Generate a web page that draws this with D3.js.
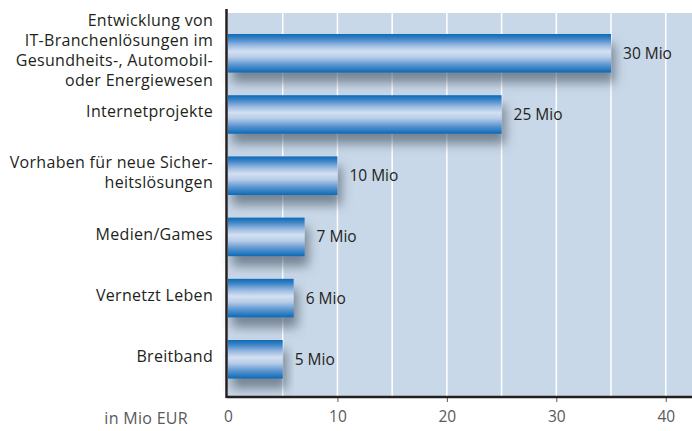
<!DOCTYPE html>
<html>
<head>
<meta charset="utf-8">
<script src="https://cdn.jsdelivr.net/npm/d3@7"></script>
<style>
  body { margin: 0; background: #fff; }
  #chart { width: 692px; height: 431px; }
  text { font-family: "Open Sans", sans-serif; }
</style>
</head>
<body>
<div id="chart"></div>
<script>
//Datos
const categories = [
    ['Entwicklung von', 'IT-Branchenlösungen im', 'Gesundheits-, Automobil-', 'oder Energiewesen'],
    ['Internetprojekte'],
    ['Vorhaben für neue Sicher-', 'heitslösungen'],
    ['Medien/Games'],
    ['Vernetzt Leben'],
    ['Breitband']
];
const barValues = [35, 25, 10, 7, 6, 5];
const valueLabels = ['30 Mio', '25 Mio', '10 Mio', '7 Mio', '6 Mio', '5 Mio'];
const tickValues = [0, 10, 20, 30, 40];
const gridValues = [5, 10, 15, 20, 25, 30, 35, 40];
const unitLabel = 'in Mio EUR';

const W = 692, H = 431;
let margin = {top: 13, right: 0, bottom: 34, left: 228};
let width = W - margin.left - margin.right,
    height = H - margin.top - margin.bottom;

let svg = d3.select('#chart').append('svg')
    .attr('width', W)
    .attr('height', H);

let defs = svg.append('defs');

//Degradado de las barras
let grad = defs.append('linearGradient')
    .attr('id', 'barGrad')
    .attr('x1', 0).attr('y1', 0).attr('x2', 0).attr('y2', 1);
[[0, '#0b6ab6'], [0.12, '#3d84c6'], [0.3, '#9cbbe2'], [0.45, '#d3e0f1'],
 [0.6, '#b8cde9'], [0.8, '#5b95d0'], [1, '#0b6ab6']].forEach(function(s) {
    grad.append('stop').attr('offset', s[0]).attr('stop-color', s[1]);
});

let shadow = defs.append('filter')
    .attr('id', 'shadow')
    .attr('x', '-10%').attr('y', '-30%').attr('width', '130%').attr('height', '200%');
shadow.append('feDropShadow')
    .attr('dx', 4).attr('dy', 10)
    .attr('stdDeviation', 5.5)
    .attr('flood-color', '#3e4c5a')
    .attr('flood-opacity', 0.6);

let g = svg.append('g')
    .attr('transform', 'translate(' + margin.left + ',' + margin.top + ')');

let x = d3.scaleLinear()
    .domain([0, 42.4])
    .range([0, width]);

let y = d3.scaleBand()
    .domain(d3.range(categories.length))
    .range([9.7, 376.9])
    .paddingInner(0.37)
    .paddingOuter(0.185);

//Fondo
g.append('rect')
    .attr('x', 0).attr('y', 0)
    .attr('width', width).attr('height', height)
    .attr('fill', '#c9d8e8');

//Rejilla
g.selectAll('.grid')
    .data(gridValues)
    .enter().append('line')
    .attr('class', 'grid')
    .attr('x1', d => x(d)).attr('x2', d => x(d))
    .attr('y1', 0).attr('y2', height)
    .attr('stroke', '#fff')
    .attr('stroke-width', 1.5);

//Barras
g.selectAll('.bar')
    .data(barValues)
    .enter().append('rect')
    .attr('class', 'bar')
    .attr('x', 0)
    .attr('y', (d, i) => y(i))
    .attr('width', d => x(d))
    .attr('height', y.bandwidth())
    .attr('fill', 'url(#barGrad)')
    .attr('filter', 'url(#shadow)');

//Etiquetas de valor
g.selectAll('.val')
    .data(barValues)
    .enter().append('text')
    .attr('class', 'val')
    .attr('x', d => x(d) + 12)
    .attr('y', (d, i) => y(i) + y.bandwidth() / 2)
    .attr('dy', '0.35em')
    .attr('font-size', 15.5)
    .attr('fill', '#231f20')
    .text((d, i) => valueLabels[i]);

//Eje X
let xAxis = d3.axisBottom(x)
    .tickValues(tickValues)
    .tickSize(5)
    .tickPadding(9);

let ax = g.append('g')
    .attr('transform', 'translate(0,' + height + ')')
    .call(xAxis);
ax.select('.domain').remove();
ax.selectAll('.tick line').attr('stroke', '#58595b').attr('stroke-width', 1);
ax.selectAll('.tick').filter(d => d === 0).select('line').remove();
ax.selectAll('.tick text')
    .attr('font-size', 15.5)
    .attr('fill', '#58595b')
    .style('font-family', '"Open Sans", sans-serif');

//Líneas de eje
g.append('line')
    .attr('x1', -1.5).attr('x2', width)
    .attr('y1', height).attr('y2', height)
    .attr('stroke', '#231f20').attr('stroke-width', 2.5);
g.append('line')
    .attr('x1', -1.5).attr('x2', -1.5)
    .attr('y1', -4).attr('y2', height + 1)
    .attr('stroke', '#231f20').attr('stroke-width', 2.5);

//Etiquetas de categoría
let lineH = 20;
let cats = g.selectAll('.cat')
    .data(categories)
    .enter().append('text')
    .attr('class', 'cat')
    .attr('text-anchor', 'end')
    .attr('font-size', 16)
    .attr('letter-spacing', 0.3)
    .attr('fill', '#231f20');
cats.each(function(lines, i) {
    let cy = y(i) + y.bandwidth() / 2 - (lines.length - 1) * lineH / 2 - 3;
    d3.select(this).selectAll('tspan')
        .data(lines)
        .enter().append('tspan')
        .attr('x', -15)
        .attr('y', (d, j) => cy + j * lineH)
        .attr('dy', '0.35em')
        .text(d => d);
});

//Unidad
g.append('text')
    .attr('x', -40)
    .attr('y', height + 21)
    .attr('dy', '0.35em')
    .attr('text-anchor', 'end')
    .attr('font-size', 16)
    .attr('letter-spacing', 0.3)
    .attr('fill', '#58595b')
    .text(unitLabel);
</script>
</body>
</html>
